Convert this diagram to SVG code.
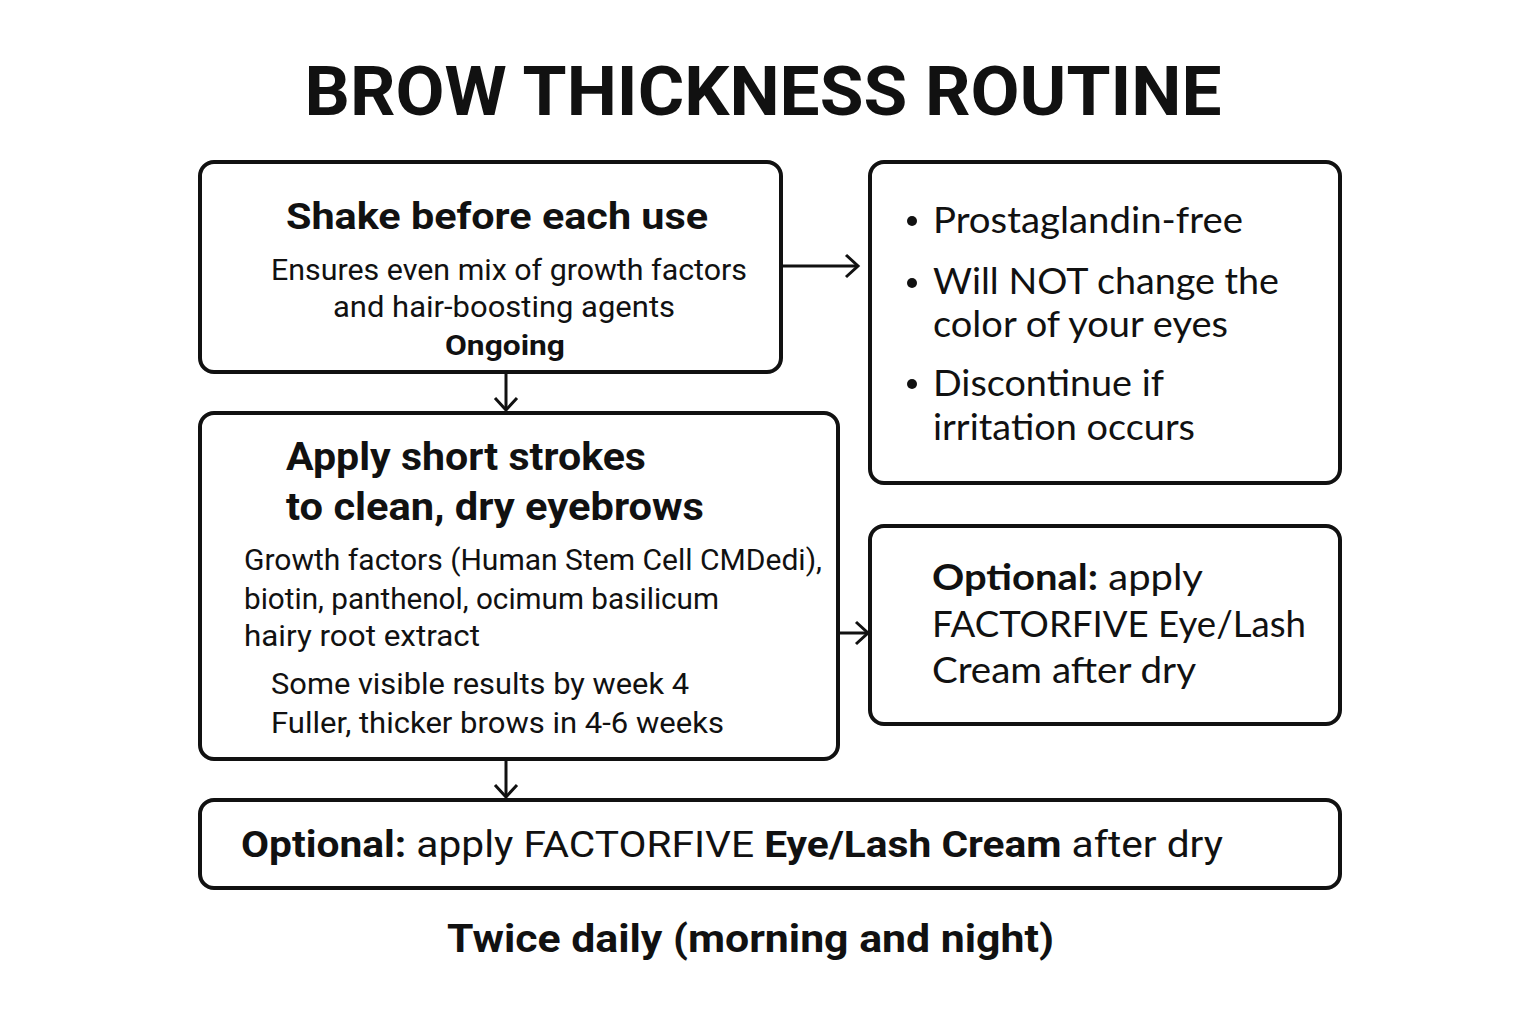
<svg xmlns="http://www.w3.org/2000/svg" width="1536" height="1024" viewBox="0 0 1536 1024">
<style>
.box{fill:#fff;stroke:#111;stroke-width:4}
.t{font-family:Roboto,"Liberation Sans",sans-serif;fill:#111}
.h{font-weight:bold}
.r{font-family:Lato,"Open Sans","Liberation Sans",sans-serif;fill:#111}
.c{fill:none;stroke:#111;stroke-width:3}
</style>
<defs>
<marker id="ah" markerUnits="userSpaceOnUse" markerWidth="20" markerHeight="26" refX="15" refY="13" orient="auto">
<path d="M3,2 L15,13 L3,24" fill="none" stroke="#111" stroke-width="3"/>
</marker>
</defs>
<rect width="1536" height="1024" fill="#fff"/>
<text class="t h" x="763" y="115" font-size="68" text-anchor="middle" textLength="917" lengthAdjust="spacingAndGlyphs">BROW THICKNESS ROUTINE</text>

<g id="connectors">
<line class="c" x1="781" y1="266" x2="858" y2="266" marker-end="url(#ah)"/>
<line class="c" x1="506" y1="372" x2="506" y2="410" marker-end="url(#ah)"/>
<line class="c" x1="838" y1="633" x2="868" y2="633" marker-end="url(#ah)"/>
<line class="c" x1="506" y1="759" x2="506" y2="797" marker-end="url(#ah)"/>
</g>

<g id="shake">
<rect class="box" x="200" y="162" width="581" height="210" rx="14"/>
<text class="t h" x="286" y="229" font-size="37" textLength="422" lengthAdjust="spacingAndGlyphs">Shake before each use</text>
<text class="t" x="271" y="280" font-size="30" textLength="476" lengthAdjust="spacingAndGlyphs">Ensures even mix of growth factors</text>
<text class="t" x="333" y="317" font-size="30" textLength="342" lengthAdjust="spacingAndGlyphs">and hair-boosting agents</text>
<text class="t h" x="445" y="355" font-size="28" textLength="120" lengthAdjust="spacingAndGlyphs">Ongoing</text>
</g>

<g id="apply">
<rect class="box" x="200" y="413" width="638" height="346" rx="14"/>
<text class="t h" x="286" y="470" font-size="38" textLength="360" lengthAdjust="spacingAndGlyphs">Apply short strokes</text>
<text class="t h" x="286" y="520" font-size="38" textLength="418" lengthAdjust="spacingAndGlyphs">to clean, dry eyebrows</text>
<text class="t" x="244" y="570" font-size="30" textLength="578" lengthAdjust="spacingAndGlyphs">Growth factors (Human Stem Cell CMDedi),</text>
<text class="t" x="244" y="609" font-size="30" textLength="475" lengthAdjust="spacingAndGlyphs">biotin, panthenol, ocimum basilicum</text>
<text class="t" x="244" y="646" font-size="30" textLength="236" lengthAdjust="spacingAndGlyphs">hairy root extract</text>
<text class="t" x="271" y="694" font-size="30" textLength="418" lengthAdjust="spacingAndGlyphs">Some visible results by week 4</text>
<text class="t" x="271" y="733" font-size="30" textLength="453" lengthAdjust="spacingAndGlyphs">Fuller, thicker brows in 4-6 weeks</text>
</g>

<g id="notes">
<rect class="box" x="870" y="162" width="470" height="321" rx="14"/>
<circle cx="912" cy="221" r="5" fill="#111"/>
<circle cx="912" cy="283" r="5" fill="#111"/>
<circle cx="912" cy="384" r="5" fill="#111"/>
<text class="r" x="933" y="233" font-size="36" textLength="310" lengthAdjust="spacingAndGlyphs">Prostaglandin-free</text>
<text class="r" x="933" y="294" font-size="36" textLength="346" lengthAdjust="spacingAndGlyphs">Will NOT change the</text>
<text class="r" x="933" y="337" font-size="36" textLength="295" lengthAdjust="spacingAndGlyphs">color of your eyes</text>
<text class="r" x="933" y="396" font-size="36" textLength="231" lengthAdjust="spacingAndGlyphs">Discontinue if</text>
<text class="r" x="933" y="440" font-size="36" textLength="262" lengthAdjust="spacingAndGlyphs">irritation occurs</text>
</g>

<g id="optional-side">
<rect class="box" x="870" y="526" width="470" height="198" rx="14"/>
<text class="r" x="932" y="590" font-size="37" textLength="271" lengthAdjust="spacingAndGlyphs"><tspan font-weight="bold">Optional:</tspan> apply</text>
<text class="r" x="932" y="637" font-size="37" textLength="374" lengthAdjust="spacingAndGlyphs">FACTORFIVE Eye/Lash</text>
<text class="r" x="932" y="683" font-size="37" textLength="264" lengthAdjust="spacingAndGlyphs">Cream after dry</text>
</g>

<g id="optional-bottom">
<rect class="box" x="200" y="800" width="1140" height="88" rx="14"/>
<text class="t" x="241" y="857" font-size="37" textLength="982" lengthAdjust="spacingAndGlyphs"><tspan font-weight="bold">Optional:</tspan> apply FACTORFIVE <tspan font-weight="bold">Eye/Lash Cream</tspan> after dry</text>
</g>

<text class="t h" x="447" y="952" font-size="38" textLength="607" lengthAdjust="spacingAndGlyphs">Twice daily (morning and night)</text>
</svg>
